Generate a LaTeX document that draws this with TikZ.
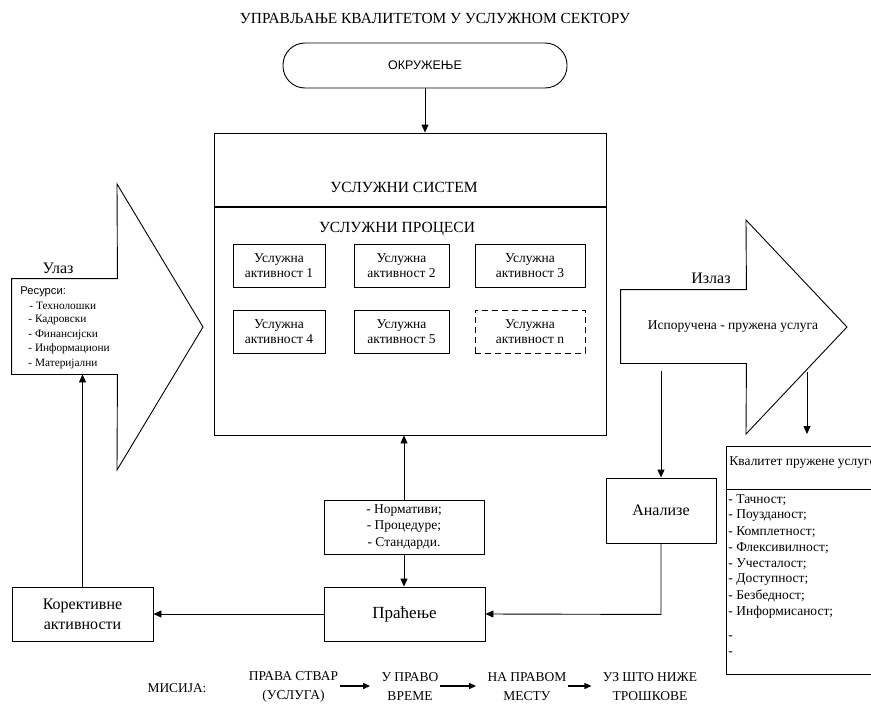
\documentclass[tikz,border=0pt]{standalone}
\usepackage{fontspec}
\setmainfont{Liberation Serif}
\setsansfont{Liberation Sans}
\usetikzlibrary{arrows.meta,calc}

\begin{document}
\begin{tikzpicture}[x=1pt,y=-1pt,
  line width=0.9pt,
  box/.style={draw, rectangle, inner sep=0pt, align=center},
  act/.style={box, minimum height=43pt, font=\fontsize{13.5}{15}\selectfont},
  lbl/.style={inner sep=0pt, align=center},
  tip/.style={-{Triangle[length=8pt,width=7pt]}},
  mtip/.style={-{Triangle[length=7pt,width=6pt]}, line width=1.3pt},
  miss/.style={inner sep=1pt, align=center, font=\fontsize{13.5}{19}\selectfont},
]
\useasboundingbox (0,0) rectangle (871,704);

% heading
\node[lbl, font=\fontsize{15.4}{18}\selectfont] (title) at (435,18) {УПРАВЉАЊЕ КВАЛИТЕТОМ У УСЛУЖНОМ СЕКТОРУ};

% environment
\node[draw, rounded corners=22pt, minimum width=284pt, minimum height=45pt,
      font=\sffamily\fontsize{12.5}{14}\selectfont] (okr) at (425,65.5) {ОКРУЖЕЊЕ};

% service system
\node[box, minimum width=392pt, minimum height=302pt] (sys) at (410,284) {};
\draw[line width=1.5pt] (sys.west |- 0,207) -- (sys.east |- 0,207);
\node[lbl, font=\fontsize{15.5}{18}\selectfont] (systxt) at (404,187) {УСЛУЖНИ СИСТЕМ};
\node[lbl, font=\fontsize{15.5}{18}\selectfont] (proc) at (397,229) {УСЛУЖНИ ПРОЦЕСИ};

\node[act, minimum width=92pt]  (a1) at (279,265.5)   {Услужна\\активност 1};
\node[act, minimum width=95pt]  (a2) at (401.5,265.5) {Услужна\\активност 2};
\node[act, minimum width=110pt] (a3) at (530,265.5)   {Услужна\\активност 3};
\node[act, minimum width=92pt]  (a4) at (279,331.5)   {Услужна\\активност 4};
\node[act, minimum width=95pt]  (a5) at (401.5,331.5) {Услужна\\активност 5};
\node[act, minimum width=110pt, dashed, dash pattern=on 6pt off 4pt] (an) at (530,331.5) {Услужна\\активност n};

\draw[tip] (okr.south) -- (okr.south |- sys.north);

% input arrow
\node[inner sep=0pt, minimum width=105pt, minimum height=95pt] (res) at (64.5,326.5) {};
\draw (res.north west) -- (res.north east) -- (117,184) -- (203,327) -- (117,470)
      -- (res.south east) -- (res.south west) -- cycle;
\node[lbl, font=\fontsize{16}{18}\selectfont] (ulaz) at (58,268) {Улаз};
\node[lbl, anchor=west, font=\sffamily\fontsize{11.2}{13}\selectfont] (resh) at (20,292) {Ресурси:};
\begin{scope}[every node/.style={lbl, anchor=west, font=\fontsize{11.3}{13}\selectfont}]
  \node (r1) at (29,305.5) {- Технолошки};
  \node (r2) at (28,320)   {- Кадровски};
  \node (r3) at (28,334.5) {- Финансијски};
  \node (r4) at (28,349)   {- Информациони};
  \node (r5) at (28,363.5) {- Материјални};
\end{scope}

% output arrow
\node[inner sep=0pt, minimum width=125pt, minimum height=73pt] (out) at (683.5,326.5) {};
\draw (out.north west) -- (out.north east) -- (746,220) -- (847,327) -- (746,434)
      -- (out.south east) -- (out.south west) -- cycle;
\node[lbl, font=\fontsize{16}{18}\selectfont] (izlaz) at (711,278) {Излаз};
\node[lbl, font=\fontsize{13.5}{15}\selectfont] (isp) at (733,327) {Испоручена - пружена услуга};

% quality of delivered service
\node[box, minimum width=174pt, minimum height=228pt] (kv) at (813,560) {};
\draw (kv.west |- 0,489) -- (kv.east |- 0,489);
\node[lbl, anchor=west, font=\fontsize{13.5}{15}\selectfont] (kvh) at (729,463) {Квалитет пружене услуге};
\begin{scope}[every node/.style={lbl, anchor=west, font=\fontsize{13.5}{15}\selectfont}]
  \node (q1)  at (728,500) {- Тачност;};
  \node (q2)  at (728,516) {- Поузданост;};
  \node (q3)  at (728,532) {- Комплетност;};
  \node (q4)  at (728,548) {- Флексивилност;};
  \node (q5)  at (728,564) {- Учесталост;};
  \node (q6)  at (728,580) {- Доступност;};
  \node (q7)  at (728,596) {- Безбедност;};
  \node (q8)  at (728,612) {- Информисаност;};
  \node (q9)  at (728,638) {-};
  \node (q10) at (728,654) {-};
\end{scope}

\coordinate (oa) at (807,372);
\coordinate (ob) at (807,434);
\draw[tip] (oa) -- (ob);

% analysis, monitoring, corrective actions
\node[box, minimum width=110pt, minimum height=65pt, font=\fontsize{16}{18}\selectfont] (an2) at (661,510.5) {Анализе};
\node[box, minimum width=160pt, minimum height=54pt, font=\fontsize{13.5}{16.5}\selectfont] (norm) at (404,527) {- Нормативи;\\- Процедуре;\\- Стандарди.};
\node[box, minimum width=161pt, minimum height=54pt, font=\fontsize{17}{19}\selectfont] (prac) at (404.5,614) {Праћење};
\node[box, minimum width=141pt, minimum height=54pt, font=\fontsize{16}{20}\selectfont] (kor) at (82.5,614) {Корективне\\активности};

\coordinate (oc) at (661,371);
\draw[tip] (oc) -- (an2.north);
\draw[tip] (an2.south) -- ++(0,71) -- (prac.east);
\draw[tip] (norm.north) -- (norm.north |- sys.south);
\draw[tip] (norm.south) -- (norm.south |- prac.north);
\draw[tip] (prac.west) -- (kor.east);
\draw[tip] (kor.north) -- (kor.north |- res.south);

% mission
\node[lbl, font=\fontsize{13.4}{15}\selectfont] (mis) at (177,688) {МИСИЈА:};
\node[miss] (m1) at (293.5,687) {ПРАВА СТВАР\\(УСЛУГА)};
\node[miss] (m2) at (410,687) {У ПРАВО\\ВРЕМЕ};
\node[miss] (m3) at (527,687) {НА ПРАВОМ\\МЕСТУ};
\node[miss] (m4) at (650,687) {УЗ ШТО НИЖЕ\\ТРОШКОВЕ};
\draw[mtip, shorten >=10pt] (m1.east |- 0,686) -- (m2.west |- 0,686);
\draw[mtip, shorten >=10pt] (m2.east |- 0,686) -- (m3.west |- 0,686);
\draw[mtip, shorten >=10pt] (m3.east |- 0,686) -- (m4.west |- 0,686);
\end{tikzpicture}
\end{document}
